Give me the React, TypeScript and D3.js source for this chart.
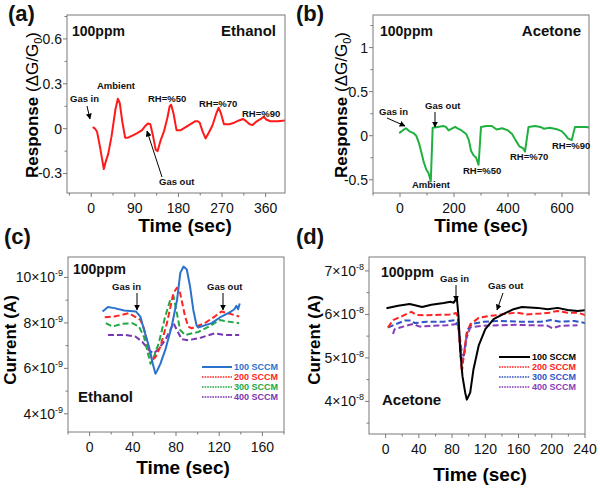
import React from 'react';
import * as d3 from 'd3';

// ---------- Panel (a): Ethanol, response vs time ----------
const A_TIME = [3,8,12,18,26,30,35,42,50,55,59,64,70,76,86,95,105,112,117,122,127,133,137,143,150,157,162,165,170,176,185,195,205,215,220,224,230,236,242,250,258,263,268,274,285,295,305,313,320,327,333,340,350,356,362,370,385,400];
const A_RESP = [0.01,0.0,-0.02,-0.12,-0.27,-0.22,-0.17,-0.05,0.13,0.2,0.17,0.05,-0.06,-0.06,-0.045,-0.03,-0.01,0.02,0.035,0.03,-0.04,-0.14,-0.15,-0.08,-0.02,0.07,0.15,0.16,0.1,-0.01,-0.01,0.01,0.03,0.05,0.05,0.04,-0.02,-0.065,-0.03,0.02,0.1,0.14,0.1,0.03,0.03,0.04,0.055,0.065,0.05,0.03,0.025,0.045,0.065,0.08,0.06,0.05,0.05,0.055];
const A_XTICKS = [0, 90, 180, 270, 360];
const A_XMINOR = [-45, 45, 135, 225, 315];
const A_YTICKS = [-0.3, 0, 0.3, 0.6];
const A_YMINOR = [-0.15, 0.15, 0.45, 0.75];

// ---------- Panel (b): Acetone, response vs time ----------
const B_TIME = [-3,10,22,35,50,60,70,80,88,97,105,110,114,121,140,160,170,180,192,204,215,228,245,255,263,272,282,291,300,320,340,358,378,400,415,428,442,455,463,476,500,520,532,555,585,600,612,622,636,648,670,690,705];
const B_RESP = [0.03,0.06,0.085,0.05,0.03,0.0,-0.08,-0.2,-0.3,-0.38,-0.42,-0.47,-0.52,0.09,0.1,0.11,0.1,0.06,0.08,0.1,0.08,0.06,0.02,-0.05,-0.17,-0.22,-0.25,-0.33,0.1,0.11,0.11,0.07,0.085,0.06,0.02,-0.05,-0.12,-0.14,-0.18,0.1,0.11,0.1,0.08,0.09,0.07,0.05,0.01,-0.03,-0.05,0.1,0.1,0.1,0.09];
const B_XTICKS = [0, 200, 400, 600];
const B_XMINOR = [-100, 100, 300, 500, 700];
const B_YTICKS = [-0.5, 0, 0.5, 1];
const B_YMINOR = [-0.25, 0.25, 0.75, 1.25];

// ---------- Panel (c): Ethanol, current (x10^-9 A) vs time ----------
const C_T100 = [12,17,23,32,43,47,50,55,58.5,61,62.6,65.5,70,76,81,84,87,90,93,96,99,100.5,113,122,131,134,136,137.5,139];
const C_I100 = [8.5,8.7,8.65,8.55,8.5,8.28,7.76,6.95,6.2,5.76,5.9,6.2,6.8,7.84,9.02,10.2,10.48,10.35,9.61,8.58,7.9,7.8,7.99,8.28,8.5,8.6,8.75,8.6,8.85];
const C_T200 = [14,23,30.5,36.6,41,47,50.3,55,58,61,65.5,71.6,77.7,80.8,83.8,88.4,91.4,94.5,106.7,115.8,122,128,138.5];
const C_I200 = [8.25,8.28,8.36,8.43,8.3,8.13,7.76,6.8,6.36,6.5,6.95,7.99,9.32,9.54,9.32,8.28,7.84,7.76,7.99,8.28,8.5,8.43,8.28];
const C_T300 = [15,21,30.5,39.6,45.7,50.3,53.3,56.4,59.4,64,70,74.7,77.7,80.8,83.8,88.4,100.6,112.8,120.4,128,138.5];
const C_I300 = [7.99,7.84,7.96,7.99,7.84,7.39,6.8,6.2,6.5,7.1,8.28,9.02,9.17,8.43,7.69,7.47,7.6,7.9,8.13,8.06,7.99];
const C_T400 = [17,24.4,33.5,42.7,48.8,54.9,59.4,64,70,74.7,77.7,80.8,85.3,91.4,103.6,115.8,125,138.5];
const C_I400 = [7.47,7.47,7.47,7.39,7.17,6.8,6.65,6.87,7.24,7.69,7.99,7.69,7.28,7.24,7.36,7.54,7.47,7.47];
const C_XTICKS = [0, 40, 80, 120, 160];
const C_XMINOR = [-20, 20, 60, 100, 140, 180];
const C_YTICKS = [4, 6, 8, 10];
const C_YMINOR = [5, 7, 9];

// ---------- Panel (d): Acetone, current (x10^-8 A) vs time ----------
const D_T100 = [1,15,29,44,55,70,78,82,85.7,87.7,89.7,92.5,95.8,97.8,101.8,105.8,112,120,130,142,154,164,183,195,207,219,231,241];
const D_I100 = [6.14,6.2,6.24,6.17,6.22,6.26,6.29,6.27,6.38,5.97,5.2,4.58,4.2,4.04,4.2,4.74,5.28,5.66,5.89,6.01,6.12,6.17,6.15,6.12,6.15,6.1,6.08,6.1];
const D_T200 = [2.8,9,21,31,37,49,65.5,77.6,84.8,86.9,89.7,91.7,93.7,97,101.8,112,126,134,146,158,170,186.5,196.7,206.8,219,231,241];
const D_I200 = [5.7,5.87,5.97,6.06,5.99,5.98,5.99,6.0,6.03,5.94,5.2,4.66,5.0,5.5,5.77,5.92,5.97,5.98,6.02,6.04,6.0,6.02,6.04,6.08,6.04,6.04,5.98];
const D_T300 = [2.8,13,23,31,35,49,69.5,83.6,87.7,90.9,93,95.8,97.8,103.8,118,138,162,186.5,198.7,210.8,227,241];
const D_I300 = [5.7,5.78,5.86,5.86,5.8,5.83,5.83,5.87,5.72,5.05,4.93,5.2,5.63,5.78,5.83,5.85,5.83,5.83,5.87,5.83,5.85,5.8];
const D_T400 = [8.9,10.9,25,33,41,57,73.5,85.7,88.5,91.7,93.7,97,101.8,118,138,158,178.5,194.7,200.7,210.8,231];
const D_I400 = [5.55,5.66,5.74,5.78,5.72,5.74,5.75,5.78,5.62,5.12,5.05,5.43,5.7,5.74,5.75,5.76,5.75,5.74,5.68,5.74,5.75];
const D_XTICKS = [0, 40, 80, 120, 160, 200, 240];
const D_XMINOR = [20, 60, 100, 140, 180, 220];
const D_YTICKS = [4, 5, 6, 7];
const D_YMINOR = [3.5, 4.5, 5.5, 6.5];

const FLOW_LABELS = ['100 SCCM', '200 SCCM', '300 SCCM', '400 SCCM'];

const FONT = '"Liberation Sans", Arial, Helvetica, sans-serif';
const FRAME_COLOR = '#7a7a7a';
const TEXT_COLOR = '#111';

type Series = { xs: number[]; ys: number[]; color: string; dash?: string; width?: number };
type Frame = { x0: number; y0: number; x1: number; y1: number };

function Panel(props: {
  id: string;
  frame: Frame;
  xDomain: [number, number];
  yDomain: [number, number];
  xTicks: number[];
  xMinor: number[];
  yTicks: number[];
  yMinor: number[];
  yLabel: (d: number) => React.ReactNode;
  series: Series[];
}) {
  const { id, frame, xDomain, yDomain, xTicks, xMinor, yTicks, yMinor, yLabel, series } = props;
  const x = d3.scaleLinear().domain(xDomain).range([frame.x0, frame.x1]);
  const y = d3.scaleLinear().domain(yDomain).range([frame.y1, frame.y0]);
  const line = d3
    .line<[number, number]>()
    .x((d) => x(d[0]))
    .y((d) => y(d[1]));
  const inX = (v: number) => v >= xDomain[0] && v <= xDomain[1];
  const inY = (v: number) => v >= yDomain[0] && v <= yDomain[1];
  return (
    <g>
      <defs>
        <clipPath id={`clip-${id}`}>
          <rect x={frame.x0} y={frame.y0} width={frame.x1 - frame.x0} height={frame.y1 - frame.y0} />
        </clipPath>
      </defs>
      <g clipPath={`url(#clip-${id})`}>
        {series.map((s, i) => (
          <path
            key={i}
            d={line(s.xs.map((v, j) => [v, s.ys[j]] as [number, number])) || ''}
            fill="none"
            stroke={s.color}
            strokeWidth={s.width ?? 2}
            strokeDasharray={s.dash}
            strokeLinejoin="round"
          />
        ))}
      </g>
      <rect
        x={frame.x0}
        y={frame.y0}
        width={frame.x1 - frame.x0}
        height={frame.y1 - frame.y0}
        fill="none"
        stroke={FRAME_COLOR}
        strokeWidth={1}
      />
      {xTicks.filter(inX).map((t) => (
        <g key={`xt${t}`}>
          <line x1={x(t)} x2={x(t)} y1={frame.y1} y2={frame.y1 + 4} stroke={FRAME_COLOR} />
          <text
            x={x(t)}
            y={frame.y1 + 20}
            textAnchor="middle"
            fontSize={14}
            fontFamily={FONT}
            fill={TEXT_COLOR}
          >
            {t}
          </text>
        </g>
      ))}
      {xMinor.filter(inX).map((t) => (
        <line key={`xm${t}`} x1={x(t)} x2={x(t)} y1={frame.y1} y2={frame.y1 + 2.5} stroke={FRAME_COLOR} />
      ))}
      {yTicks.filter(inY).map((t) => (
        <g key={`yt${t}`}>
          <line x1={frame.x0} x2={frame.x0 - 4} y1={y(t)} y2={y(t)} stroke={FRAME_COLOR} />
          <text
            x={frame.x0 - 5}
            y={y(t)}
            dy="0.35em"
            textAnchor="end"
            fontSize={14}
            fontFamily={FONT}
            fill={TEXT_COLOR}
          >
            {yLabel(t)}
          </text>
        </g>
      ))}
      {yMinor.filter(inY).map((t) => (
        <line key={`ym${t}`} x1={frame.x0} x2={frame.x0 - 2.5} y1={y(t)} y2={y(t)} stroke={FRAME_COLOR} />
      ))}
    </g>
  );
}

function Note(p: { x: number; y: number; text: string; size?: number; anchor?: string; weight?: string; color?: string }) {
  return (
    <text
      x={p.x}
      y={p.y}
      fontSize={p.size ?? 9.5}
      fontWeight={p.weight ?? 'bold'}
      fontFamily={FONT}
      textAnchor={p.anchor ?? 'start'}
      fill={p.color ?? '#111'}
    >
      {p.text}
    </text>
  );
}

function Arrow(p: { x1: number; y1: number; x2: number; y2: number }) {
  return <line x1={p.x1} y1={p.y1} x2={p.x2} y2={p.y2} stroke="#000" strokeWidth={1} markerEnd="url(#arrowhead)" />;
}

function XTitle(p: { x: number; y: number }) {
  return (
    <text x={p.x} y={p.y} textAnchor="middle" fontSize={19} fontWeight="bold" fontFamily={FONT} fill="#000">
      Time (sec)
    </text>
  );
}

function YTitleResponse(p: { x: number; y: number }) {
  return (
    <text
      transform={`translate(${p.x},${p.y}) rotate(-90)`}
      textAnchor="middle"
      dy="0.35em"
      fontSize={17}
      fontFamily={FONT}
      fill="#000"
    >
      <tspan fontWeight="bold">Response </tspan>
      <tspan>(ΔG/G</tspan>
      <tspan fontSize={11} dy={4}>0</tspan>
      <tspan dy={-4}>)</tspan>
    </text>
  );
}

function YTitleCurrent(p: { x: number; y: number }) {
  return (
    <text
      transform={`translate(${p.x},${p.y}) rotate(-90)`}
      textAnchor="middle"
      dy="0.35em"
      fontSize={17}
      fontWeight="bold"
      fontFamily={FONT}
      fill="#000"
    >
      Current (A)
    </text>
  );
}

function sciLabel(exp: string) {
  return (d: number) => (
    <>
      <tspan>{`${d}×10`}</tspan>
      <tspan fontSize={9} dy={-6}>{exp}</tspan>
    </>
  );
}

function Legend(p: { x: number; y: number; colors: string[]; lineLen: number }) {
  return (
    <g>
      {FLOW_LABELS.map((lab, i) => {
        const yy = p.y + i * 10;
        return (
          <g key={lab}>
            <line
              x1={p.x}
              x2={p.x + p.lineLen}
              y1={yy}
              y2={yy}
              stroke={p.colors[i]}
              strokeWidth={i === 0 ? 2 : 1.6}
              strokeDasharray={i === 0 ? undefined : '1.6,1'}
            />
            <text
              x={p.x + p.lineLen + 2}
              y={yy + 3.3}
              fontSize={9}
              fontWeight="bold"
              fontFamily={FONT}
              fill={i === 0 && p.colors[0] === '#000' ? '#000' : p.colors[i]}
            >
              {lab}
            </text>
          </g>
        );
      })}
    </g>
  );
}

const C_COLORS = ['#2a72cc', '#ff2424', '#22a845', '#7a35b0'];
const D_COLORS = ['#000', '#ff2020', '#2f55c8', '#8a3cb8'];

export default function App() {
  const fmt = (d: number) => (d === 0 ? '0' : String(d));
  return (
    <svg
      width={600}
      height={489}
      viewBox="0 0 600 489"
      style={{ position: 'absolute', left: 0, top: 0, background: '#fff' }}
    >
      <defs>
        <marker
          id="arrowhead"
          viewBox="0 0 10 10"
          refX={9}
          refY={5}
          markerWidth={6}
          markerHeight={6}
          markerUnits="userSpaceOnUse"
          orient="auto"
        >
          <path d="M0,0 L10,5 L0,10 z" fill="#000" />
        </marker>
      </defs>
      <rect x={0} y={0} width={600} height={489} fill="#fff" />

      {/* (a) */}
      <Panel
        id="a"
        frame={{ x0: 67, y0: 15, x1: 285, y1: 193 }}
        xDomain={[-50, 400]}
        yDomain={[-0.43, 0.76]}
        xTicks={A_XTICKS}
        xMinor={A_XMINOR}
        yTicks={A_YTICKS}
        yMinor={A_YMINOR}
        yLabel={fmt}
        series={[{ xs: A_TIME, ys: A_RESP, color: '#ff1a1a', width: 2 }]}
      />
      <Note x={72} y={36} text="100ppm" size={14} />
      <Note x={276} y={36} text="Ethanol" size={15} anchor="end" />
      <Note x={97} y={89} text="Ambient" />
      <Note x={70} y={102} text="Gas in" />
      <Arrow x1={87} y1={106} x2={90} y2={119} />
      <Note x={148} y={102} text="RH=%50" />
      <Note x={199} y={107} text="RH=%70" />
      <Note x={242} y={117} text="RH=%90" />
      <Note x={159} y={185} text="Gas out" />
      <Arrow x1={162} y1={177} x2={147} y2={131} />
      <XTitle x={185} y={232} />
      <YTitleResponse x={32} y={105} />

      {/* (b) */}
      <Panel
        id="b"
        frame={{ x0: 373, y0: 15, x1: 589, y1: 193 }}
        xDomain={[-100, 700]}
        yDomain={[-0.65, 1.37]}
        xTicks={B_XTICKS}
        xMinor={B_XMINOR}
        yTicks={B_YTICKS}
        yMinor={B_YMINOR}
        yLabel={fmt}
        series={[{ xs: B_TIME, ys: B_RESP, color: '#1fb040', width: 2 }]}
      />
      <Note x={380} y={36} text="100ppm" size={14} />
      <Note x={581} y={36} text="Acetone" size={15} anchor="end" />
      <Note x={379} y={115} text="Gas in" />
      <Arrow x1={387} y1={118} x2={405} y2={126} />
      <Note x={425} y={109} text="Gas out" />
      <Arrow x1={435} y1={112} x2={435} y2={127} />
      <Note x={412} y={188} text="Ambient" />
      <Note x={463} y={174} text="RH=%50" />
      <Note x={510} y={160} text="RH=%70" />
      <Note x={552} y={149} text="RH=%90" />
      <XTitle x={481} y={232} />
      <YTitleResponse x={341} y={105} />

      {/* (c) */}
      <Panel
        id="c"
        frame={{ x0: 68, y0: 257, x1: 284, y1: 432 }}
        xDomain={[-20, 180]}
        yDomain={[3.2, 10.9]}
        xTicks={C_XTICKS}
        xMinor={C_XMINOR}
        yTicks={C_YTICKS}
        yMinor={C_YMINOR}
        yLabel={sciLabel('-9')}
        series={[
          { xs: C_T400, ys: C_I400, color: C_COLORS[3], dash: '6,3' },
          { xs: C_T300, ys: C_I300, color: C_COLORS[2], dash: '6,3' },
          { xs: C_T200, ys: C_I200, color: C_COLORS[1], dash: '6,3' },
          { xs: C_T100, ys: C_I100, color: C_COLORS[0] },
        ]}
      />
      <Note x={73} y={274} text="100ppm" size={14} />
      <Note x={112} y={290} text="Gas in" />
      <Arrow x1={137} y1={293} x2={137} y2={310} />
      <Note x={207} y={290} text="Gas out" />
      <Arrow x1={223} y1={293} x2={223} y2={310} />
      <Note x={78} y={402} text="Ethanol" size={15} />
      <Legend x={202} y={367} colors={C_COLORS} lineLen={30} />
      <XTitle x={183} y={474} />
      <YTitleCurrent x={10} y={340} />

      {/* (d) */}
      <Panel
        id="d"
        frame={{ x0: 369, y0: 257, x1: 585, y1: 434 }}
        xDomain={[-20, 240]}
        yDomain={[3.25, 7.32]}
        xTicks={D_XTICKS}
        xMinor={D_XMINOR}
        yTicks={D_YTICKS}
        yMinor={D_YMINOR}
        yLabel={sciLabel('-8')}
        series={[
          { xs: D_T400, ys: D_I400, color: D_COLORS[3], dash: '6,3' },
          { xs: D_T300, ys: D_I300, color: D_COLORS[2], dash: '6,3' },
          { xs: D_T200, ys: D_I200, color: D_COLORS[1], dash: '6,3' },
          { xs: D_T100, ys: D_I100, color: D_COLORS[0] },
        ]}
      />
      <Note x={381} y={277} text="100ppm" size={14} />
      <Note x={440} y={282} text="Gas in" />
      <Arrow x1={456} y1={285} x2={456} y2={301} />
      <Note x={488} y={289} text="Gas out" />
      <Arrow x1={503} y1={293} x2={497} y2={310} />
      <Note x={382} y={405} text="Acetone" size={15} />
      <Legend x={499} y={357} colors={D_COLORS} lineLen={31} />
      <XTitle x={480} y={481} />
      <YTitleCurrent x={314} y={340} />

      {/* panel letters */}
      <Note x={8} y={21} text="(a)" size={22} />
      <Note x={296} y={21} text="(b)" size={22} />
      <Note x={4} y={244} text="(c)" size={22} />
      <Note x={296} y={244} text="(d)" size={22} />
    </svg>
  );
}
